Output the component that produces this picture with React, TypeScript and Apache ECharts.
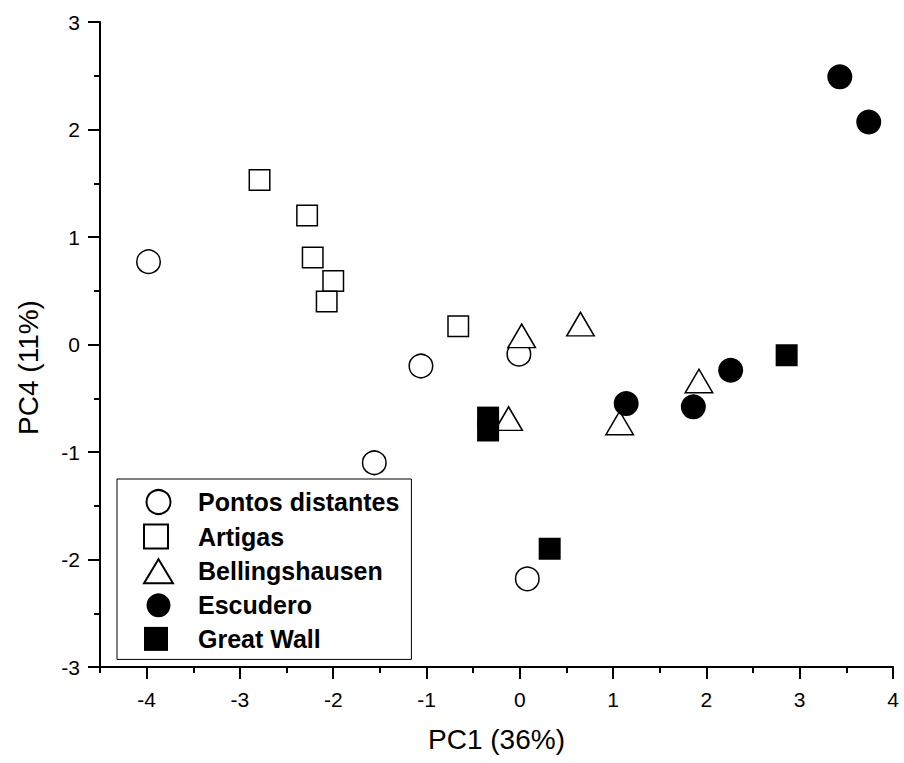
import React, { useEffect, useRef } from "react";
import * as echarts from "echarts";

const seriesNames = ["Pontos distantes", "Artigas", "Bellingshausen", "Escudero", "Great Wall"];

const pontos: number[][] = [[-3.98, 0.77], [-1.06, -0.2], [-1.56, -1.1], [-0.01, -0.09], [0.08, -2.18]];
const artigas: number[][] = [[-2.79, 1.53], [-2.28, 1.2], [-2.22, 0.81], [-2.0, 0.59], [-2.07, 0.4], [-0.66, 0.17]];
const bellingshausen: number[][] = [[0.02, 0.08], [0.65, 0.19], [-0.12, -0.69], [1.07, -0.73], [1.92, -0.34]];
const escudero: number[][] = [[3.43, 2.49], [3.74, 2.07], [1.14, -0.55], [1.86, -0.58], [2.26, -0.24]];
const greatWall: number[][] = [[-0.34, -0.68], [-0.34, -0.8], [2.86, -0.1], [0.32, -1.9]];

const xMajorTicks = [-4, -3, -2, -1, 0, 1, 2, 3, 4];
const xMinorTicks = [-4.5, -3.5, -2.5, -1.5, -0.5, 0.5, 1.5, 2.5, 3.5];

const FONT = '"Liberation Sans", Arial, sans-serif';

export default function App() {
  const ref = useRef<HTMLDivElement>(null);
  useEffect(() => {
    if (!ref.current) return;
    const chart = echarts.init(ref.current, undefined, { renderer: "svg" });
    const open = { color: "#ffffff", borderColor: "#000000", borderWidth: 1.5, opacity: 1 };
    const filled = { color: "#000000", borderColor: "#000000", borderWidth: 0, opacity: 1 };
    chart.setOption({
      animation: false,
      backgroundColor: "#ffffff",
      grid: { left: 100, right: 11, top: 22, bottom: 96, containLabel: false },
      legend: {
        orient: "vertical",
        left: 117,
        top: 479,
        padding: [10, 12, 8, 26],
        itemGap: 8.6,
        itemWidth: 29,
        itemHeight: 24,
        borderColor: "#000000",
        borderWidth: 1,
        backgroundColor: "#ffffff",
        selectedMode: false,
        data: seriesNames,
        textStyle: {
          fontFamily: FONT,
          fontSize: 25,
          fontWeight: "bold",
          color: "#000000",
          padding: [0, 0, 0, 20],
        },
      },
      xAxis: [
        {
          type: "value",
          min: -4.5,
          max: 4,
          position: "bottom",
          name: "PC1 (36%)",
          nameLocation: "middle",
          nameGap: 58,
          nameTextStyle: { fontFamily: FONT, fontSize: 28, color: "#000000" },
          axisLine: { show: true, onZero: false, lineStyle: { color: "#000000", width: 2 } },
          axisTick: {
            show: true,
            inside: false,
            length: 12,
            customValues: xMajorTicks,
            lineStyle: { color: "#000000", width: 2 },
          },
          axisLabel: {
            customValues: xMajorTicks,
            margin: 22,
            fontFamily: FONT,
            fontSize: 21,
            color: "#000000",
          },
          splitLine: { show: false },
        },
        {
          type: "value",
          min: -4.5,
          max: 4,
          position: "bottom",
          axisLine: { show: false, onZero: false },
          axisTick: {
            show: true,
            inside: false,
            length: 6,
            customValues: xMinorTicks,
            lineStyle: { color: "#000000", width: 2 },
          },
          axisLabel: { show: false },
          splitLine: { show: false },
        },
      ],
      yAxis: {
        type: "value",
        min: -3,
        max: 3,
        interval: 1,
        name: "PC4 (11%)",
        nameLocation: "middle",
        nameRotate: 90,
        nameGap: 58,
        nameTextStyle: { fontFamily: FONT, fontSize: 28, color: "#000000", padding: [0, 46, 0, 0] },
        axisLine: { show: true, onZero: false, lineStyle: { color: "#000000", width: 2 } },
        axisTick: { show: true, inside: false, length: 12, lineStyle: { color: "#000000", width: 2 } },
        minorTick: { show: true, splitNumber: 2, length: 6, lineStyle: { color: "#000000", width: 2 } },
        axisLabel: { margin: 20, fontFamily: FONT, fontSize: 21, color: "#000000" },
        splitLine: { show: false },
        minorSplitLine: { show: false },
      },
      series: [
        { name: seriesNames[0], type: "scatter", data: pontos, symbol: "circle", symbolSize: 23.5, itemStyle: open },
        { name: seriesNames[1], type: "scatter", data: artigas, symbol: "square", symbolSize: 20.5, itemStyle: open },
        { name: seriesNames[2], type: "scatter", data: bellingshausen, symbol: "triangle", symbolSize: [27.5, 23.5], itemStyle: open },
        { name: seriesNames[3], type: "scatter", data: escudero, symbol: "circle", symbolSize: 25, itemStyle: filled },
        { name: seriesNames[4], type: "scatter", data: greatWall, symbol: "square", symbolSize: 22, itemStyle: filled },
      ],
    });
    return () => chart.dispose();
  }, []);
  return (
    <div
      ref={ref}
      style={{ position: "fixed", left: 0, top: 0, width: 904, height: 763, background: "#ffffff" }}
    />
  );
}
